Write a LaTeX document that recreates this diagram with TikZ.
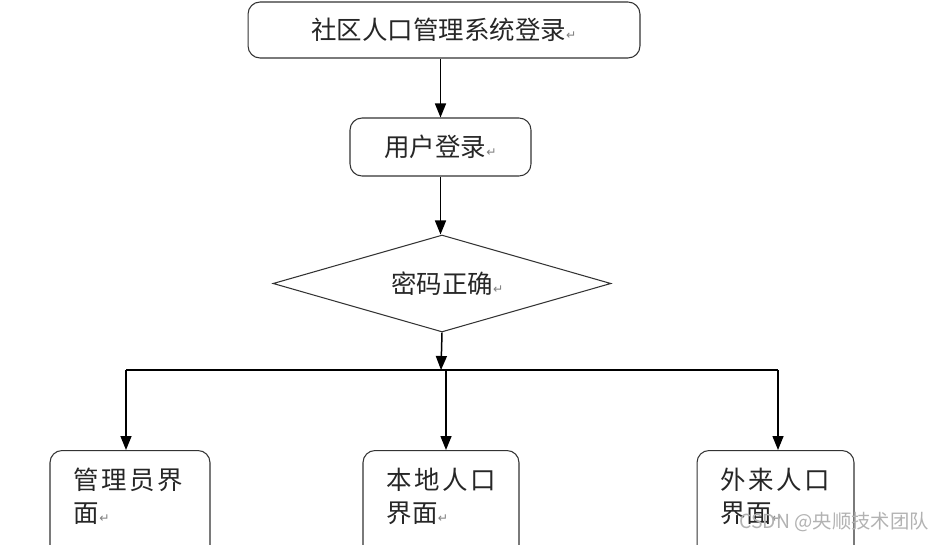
\documentclass[tikz,border=0pt]{standalone}
\usepackage{fontspec}
\newfontfamily\cjk{Noto Sans CJK SC}
\newfontfamily\symfont{DejaVu Sans}
\usetikzlibrary{shapes.geometric, positioning, arrows.meta}

\newcommand{\retmark}{{\symfont\fontsize{7}{7}\selectfont\textcolor{gray}{↵}}}
\newcommand{\cgap}{\hspace{1.3pt}}

\tikzset{
  box/.style={draw=black!80, line width=0.6pt, rounded corners=0.24cm, inner sep=0pt},
  decide/.style={draw=black!80, line width=0.6pt, shape=diamond, aspect=3.48, inner sep=0pt,
    minimum width=6.76cm, minimum height=1.94cm},
  txt/.style={font=\cjk\fontsize{14.5}{18.8}\selectfont, text=black!85},
  flow/.style={line width=0.85pt, -{Triangle[length=0.28cm, width=0.22cm]}},
  bar/.style={line width=0.85pt}
}

\begin{document}
\begin{tikzpicture}[x=0.02cm, y=-0.02cm]
  \useasboundingbox (0,0) rectangle (945,544);
  \clip (0,0) rectangle (945,544);

  % top boxes
  \node[box, txt, minimum width=7.84cm, minimum height=1.12cm] (sys) at (444,30)
    {社区人口管理系统登录\retmark};
  \node[box, txt, minimum width=3.62cm, minimum height=1.16cm] (login) at (440.5,147)
    {用户登录\retmark};
  \node[decide, txt] (check) at (442,283.5) {\hspace{6pt}密码正确\retmark};

  % the three pages (they run past the lower edge)
  \node[box, anchor=north, minimum width=3.2cm, minimum height=3.4cm] (admin) at (130,450) {};
  \node[box, anchor=north, minimum width=3.12cm, minimum height=3.4cm] (local) at (441,450) {};
  \node[box, anchor=north, minimum width=3.14cm, minimum height=3.4cm] (migrant) at (775.5,450) {};

  \node[txt, anchor=north west, align=left, inner sep=0pt] (adminlbl)
    at ([shift={(24,18)}]admin.north west) {管\cgap 理\cgap 员\cgap 界\\面\retmark};
  \node[txt, anchor=north west, align=left, inner sep=0pt] (locallbl)
    at ([shift={(24,18)}]local.north west) {本\cgap 地\cgap 人\cgap 口\\界面\retmark};
  \node[txt, anchor=north west, align=left, inner sep=0pt] (migrantlbl)
    at ([shift={(24,18)}]migrant.north west) {外\cgap 来\cgap 人\cgap 口\\界面\retmark};

  % connectors
  \coordinate (split) at (441,370);
  \coordinate (barL) at (126,370);
  \coordinate (barM) at (446,370);
  \coordinate (barR) at (778,370);

  \draw[flow] (sys.south -| login.north) -- (login.north);
  \draw[flow] (login.south) -- (check.north -| login.south);
  \draw[flow] (check.south) -- (split);
  \draw[bar] (barL) -- (barR);
  \draw[flow] (barL) -- (barL |- admin.north);
  \draw[flow] (barM) -- (barM |- local.north);
  \draw[flow] (barR) -- (barR |- migrant.north);

  % watermark
  \node[font=\cjk\fontsize{11}{13}\selectfont, text=gray!60, anchor=east, inner sep=0pt] (mark)
    at (929,522) {CSDN @央顺技术团队};
\end{tikzpicture}
\end{document}
